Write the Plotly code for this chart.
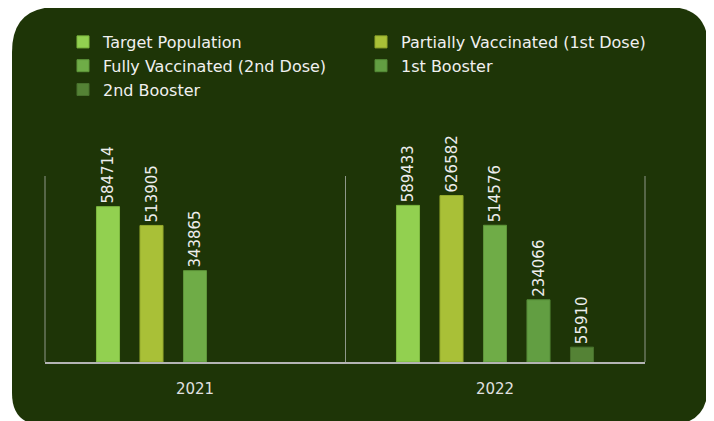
import plotly.graph_objects as go

years = ["2021", "2022"]
series_names = [
    "Target Population",
    "Partially Vaccinated (1st Dose)",
    "Fully Vaccinated (2nd Dose)",
    "1st Booster",
    "2nd Booster",
]
target_population = [584714, 589433]
partially_vaccinated = [513905, 626582]
fully_vaccinated = [343865, 514576]
first_booster = [None, 234066]
second_booster = [None, 55910]

colors = ["#92D050", "#A9C037", "#6FAC47", "#629E42", "#548235"]
edge_colors = ["#7DB83F", "#93A82C", "#5E963A", "#548A37", "#47702C"]
# two-column legend: left column / right column
legend_ids = ["legend", "legend2", "legend", "legend2", "legend"]

# the page body adds an 8px margin, so the figure is laid out 8px smaller
OFF = 8
W, H = 714 - OFF, 421 - OFF
L, R, T, B = 45 - OFF, 714 - 645, 176 - OFF, 421 - 362
PW, PH = W - L - R, H - T - B


def px(x):
    return (x - OFF - L) / PW


def py(y):
    return (H - B - (y - OFF)) / PH


fig = go.Figure()
all_values = [target_population, partially_vaccinated, fully_vaccinated,
              first_booster, second_booster]
for name, vals, col, ecol, lg in zip(series_names, all_values, colors,
                                     edge_colors, legend_ids):
    fig.add_trace(
        go.Bar(
            x=years,
            y=vals,
            name=name,
            legend=lg,
            marker=dict(color=col, line=dict(color=ecol, width=1)),
            text=[str(v) if v is not None else "" for v in vals],
            textposition="outside",
            textangle=-90,
            constraintext="none",
            cliponaxis=False,
            textfont=dict(family="DejaVu Sans", size=15, color="#EDEDED"),
        )
    )

# rounded dark card behind the chart (screen pixel coordinates)
x0, x1, y0, y1 = 12, 708, 7, 425
r_tl, r_tr, r_bl, r_br = 45, 40, 32, 40
path = (
    f"M{px(x0 + r_tl)},{py(y0)} "
    f"L{px(x1 - r_tr)},{py(y0)} "
    f"Q{px(x1)},{py(y0)} {px(x1)},{py(y0 + r_tr)} "
    f"L{px(x1)},{py(y1 - r_br)} "
    f"Q{px(x1)},{py(y1)} {px(x1 - r_br)},{py(y1)} "
    f"L{px(x0 + r_bl)},{py(y1)} "
    f"Q{px(x0)},{py(y1)} {px(x0)},{py(y1 - r_bl)} "
    f"L{px(x0)},{py(y0 + r_tl)} "
    f"Q{px(x0)},{py(y0)} {px(x0 + r_tl)},{py(y0)} Z"
)
fig.add_shape(
    type="path",
    path=path,
    xref="paper",
    yref="paper",
    fillcolor="#1E3507",
    line=dict(width=0),
    layer="below",
)
# category boundary lines at the plot edges (plotly drops edge gridlines)
for xe in (0, 1):
    fig.add_shape(
        type="line",
        xref="paper",
        yref="paper",
        x0=xe,
        x1=xe,
        y0=0,
        y1=1,
        line=dict(color="#8E9889", width=1),
        layer="below",
    )

legend_style = dict(
    orientation="v",
    xanchor="left",
    y=py(25),
    yanchor="top",
    font=dict(family="DejaVu Sans", size=16, color="#F0F0F0"),
    bgcolor="rgba(0,0,0,0)",
    traceorder="normal",
)

fig.update_layout(
    width=W,
    height=H,
    margin=dict(l=L, r=R, t=T, b=B, autoexpand=False),
    paper_bgcolor="white",
    plot_bgcolor="rgba(0,0,0,0)",
    barmode="group",
    bargap=0.275,
    bargroupgap=0.47,
    showlegend=True,
    legend=dict(x=px(77 - 14), **legend_style),
    legend2=dict(x=px(375 - 14), **legend_style),
)
fig.update_xaxes(
    type="category",
    tickson="boundaries",
    showgrid=True,
    gridcolor="#8E9889",
    gridwidth=1,
    showline=True,
    linecolor="#B4B4B4",
    linewidth=1.5,
    ticks="",
    ticklabelstandoff=12,
    tickfont=dict(family="DejaVu Sans", size=15, color="#E0E0E0"),
)
fig.update_yaxes(
    range=[0, 700000],
    showticklabels=False,
    showgrid=False,
    zeroline=False,
)

fig.write_html("out.html")
